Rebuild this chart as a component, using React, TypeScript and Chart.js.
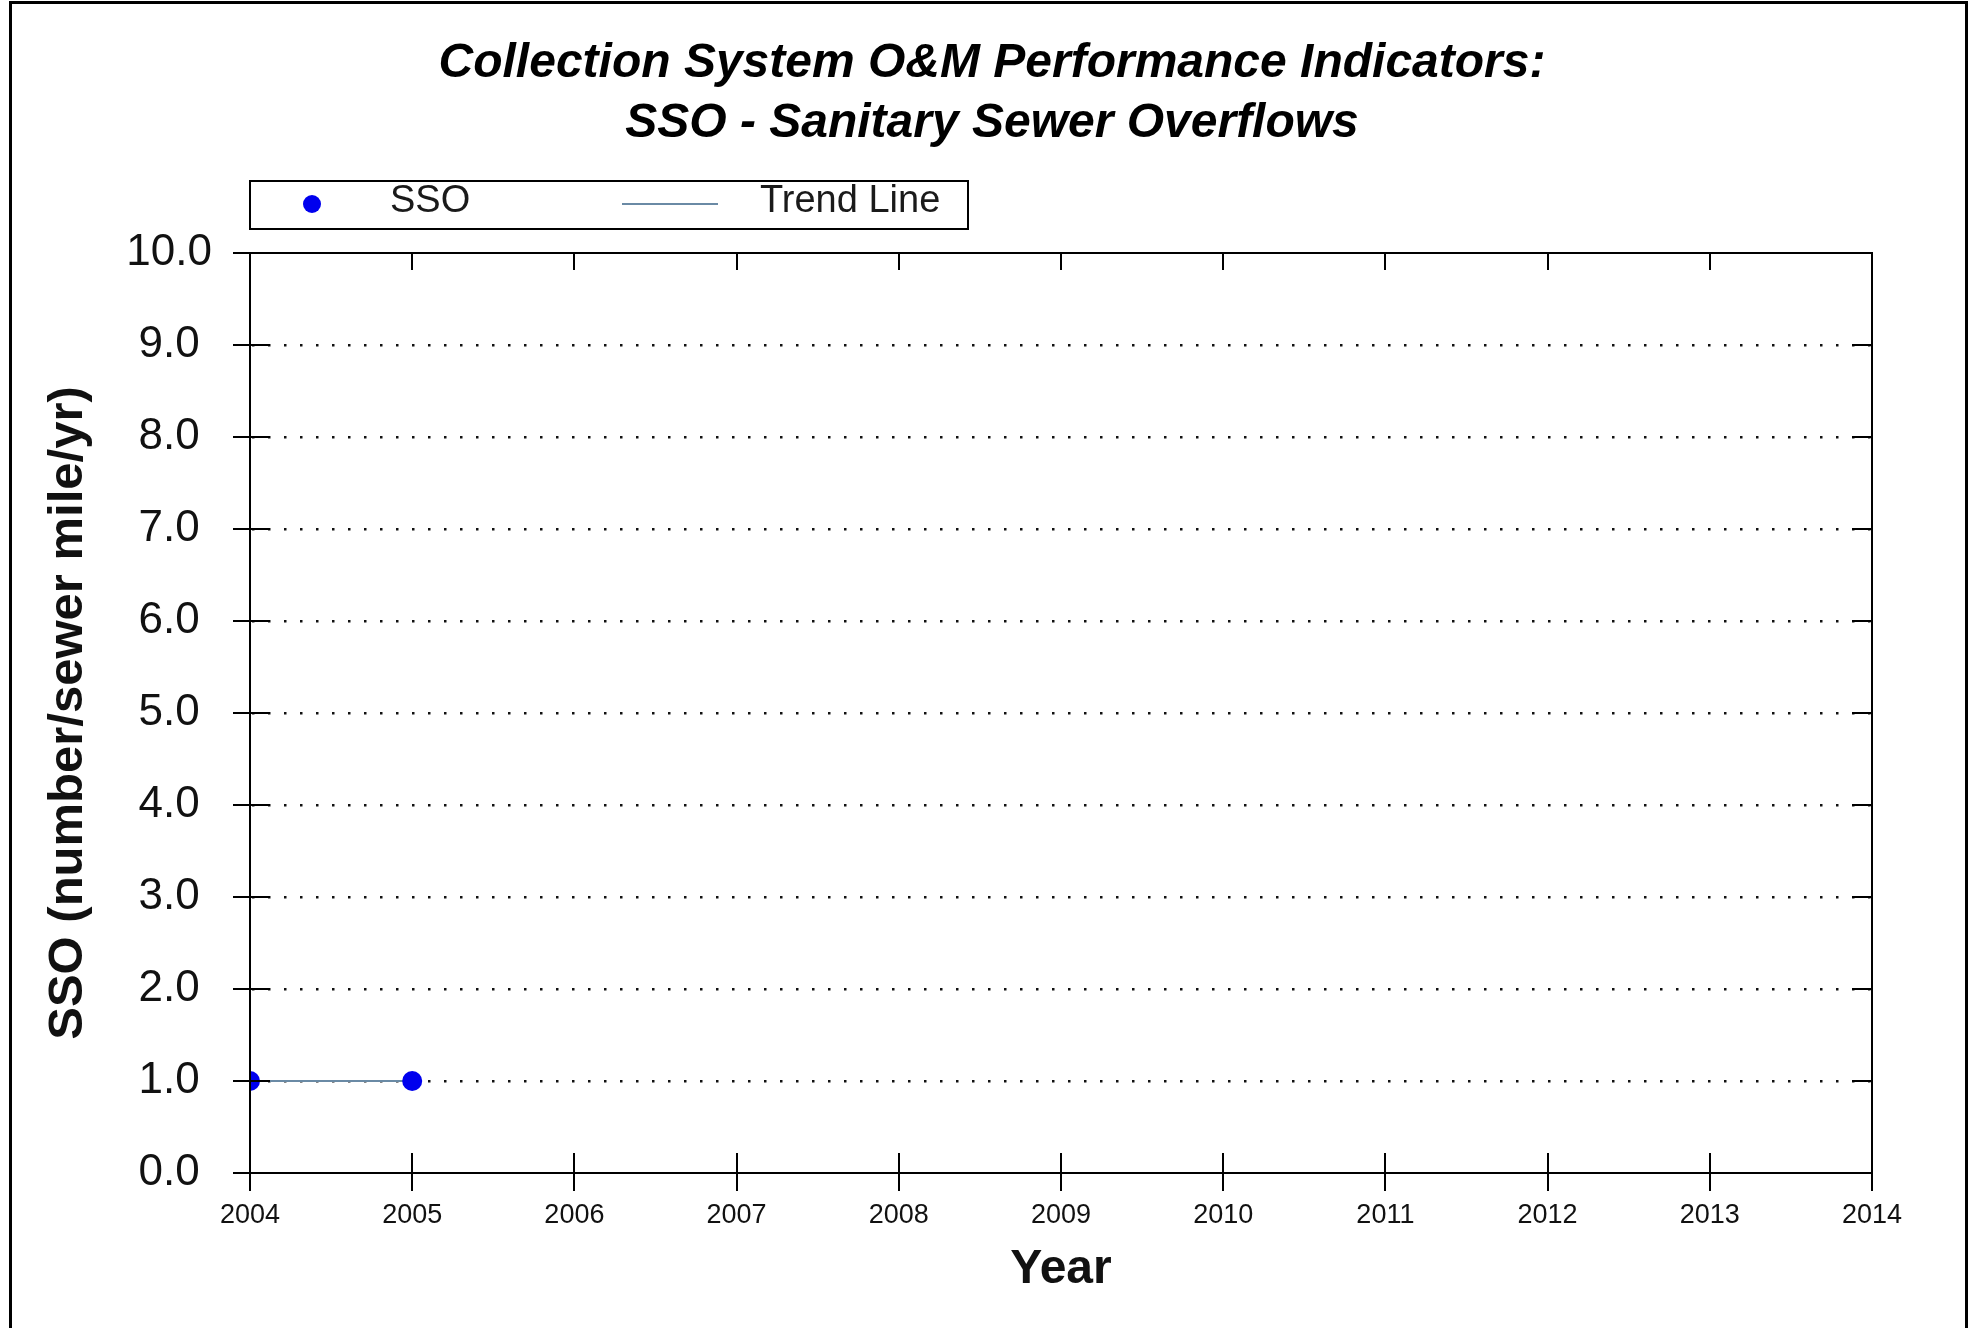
import React, { useEffect, useRef } from 'react';
import { Chart, registerables } from 'chart.js';

Chart.register(...registerables);

const titleLines = ['Collection System O&M Performance Indicators:', 'SSO - Sanitary Sewer Overflows'];
const xAxisTitle = 'Year';
const yAxisTitle = 'SSO (number/sewer mile/yr)';
const seriesLabels = ['SSO', 'Trend Line'];
const ssoYears = [2004, 2005];
const ssoValues = [1.0, 1.0];
const trendYears = [2004, 2005];
const trendValues = [1.0, 1.0];
const xRange = [2004, 2014];
const yRange = [0, 10];

const FONT = "'Liberation Sans', Arial, Helvetica, sans-serif";
const W = 1975;
const H = 1328;

const axesFramePlugin = {
  id: 'axesFrame',
  afterDatasetsDraw(chart: any) {
    const { ctx, chartArea: a, scales } = chart;
    const xs = scales.x;
    const ys = scales.y;
    ctx.save();
    ctx.strokeStyle = '#000';
    ctx.lineWidth = 2;
    ctx.strokeRect(a.left, a.top, a.right - a.left, a.bottom - a.top);
    ctx.beginPath();
    xs.ticks.forEach((t: any) => {
      const px = Math.round(xs.getPixelForValue(t.value));
      ctx.moveTo(px, a.bottom - 20);
      ctx.lineTo(px, a.bottom + 18);
      ctx.moveTo(px, a.top);
      ctx.lineTo(px, a.top + 17);
    });
    ys.ticks.forEach((t: any) => {
      const py = Math.round(ys.getPixelForValue(t.value));
      ctx.moveTo(a.left - 17, py);
      ctx.lineTo(a.left + 20, py);
      ctx.moveTo(a.right - 20, py);
      ctx.lineTo(a.right, py);
    });
    ctx.stroke();
    ctx.lineWidth = 3;
    ctx.strokeRect(10.5, 2.5, 1956, 1340);
    ctx.restore();
  },
};

const boxLegendPlugin = {
  id: 'boxLegend',
  afterDraw(chart: any) {
    const { ctx } = chart;
    const ds = chart.data.datasets;
    ctx.save();
    ctx.strokeStyle = '#000';
    ctx.lineWidth = 2;
    ctx.strokeRect(250, 181, 718, 48);
    ctx.fillStyle = ds[0].backgroundColor;
    ctx.beginPath();
    ctx.arc(312, 204, 9, 0, Math.PI * 2);
    ctx.fill();
    ctx.strokeStyle = ds[1].borderColor;
    ctx.lineWidth = 2;
    ctx.beginPath();
    ctx.moveTo(622, 204);
    ctx.lineTo(718, 204);
    ctx.stroke();
    ctx.fillStyle = '#1a1a1a';
    ctx.font = `38px ${FONT}`;
    ctx.textBaseline = 'middle';
    ctx.textAlign = 'left';
    ctx.fillText(ds[0].label, 390, 202);
    ctx.fillText(ds[1].label, 760, 202);
    ctx.restore();
  },
};

export default function App() {
  const ref = useRef<HTMLCanvasElement | null>(null);

  useEffect(() => {
    document.body.style.margin = '0';
    const canvas = ref.current;
    if (!canvas) return;
    const chart = new Chart(canvas, {
      type: 'scatter',
      data: {
        datasets: [
          {
            label: seriesLabels[0],
            data: ssoYears.map((x, i) => ({ x, y: ssoValues[i] })),
            showLine: false,
            pointRadius: 10,
            pointHoverRadius: 10,
            backgroundColor: '#0000ee',
            borderColor: '#0000ee',
            pointBorderWidth: 0,
            borderWidth: 0,
            clip: 0,
          } as any,
          {
            label: seriesLabels[1],
            data: trendYears.map((x, i) => ({ x, y: trendValues[i] })),
            showLine: true,
            pointRadius: 0,
            borderColor: '#6a8aa5',
            backgroundColor: '#6a8aa5',
            borderWidth: 2,
            clip: 0,
          } as any,
        ],
      },
      options: {
        responsive: false,
        animation: false,
        devicePixelRatio: 1,
        events: [],
        layout: { padding: { left: 9, right: 0, top: 0, bottom: 0 } },
        plugins: {
          legend: { display: false },
          tooltip: { enabled: false },
          title: {
            display: true,
            text: titleLines,
            color: '#000',
            align: 'center',
            font: { family: FONT, size: 48, weight: 'bold', style: 'italic', lineHeight: 1.25 },
            padding: { top: 33.5, bottom: 99.5 },
          },
        },
        scales: {
          x: {
            type: 'linear',
            position: 'bottom',
            min: xRange[0],
            max: xRange[1],
            grid: { display: false },
            border: { display: false },
            ticks: {
              stepSize: 1,
              autoSkip: false,
              maxRotation: 0,
              padding: 18,
              color: '#111',
              font: { family: FONT, size: 27 },
              callback: (v: any) => String(v),
            },
            title: {
              display: true,
              text: xAxisTitle,
              color: '#111',
              font: { family: FONT, size: 48, weight: 'bold' },
              padding: { top: 0, bottom: 29 },
            },
            afterFit: (s: any) => {
              s.height = 155;
            },
          },
          y: {
            type: 'linear',
            position: 'left',
            min: yRange[0],
            max: yRange[1],
            grid: {
              display: true,
              drawTicks: false,
              lineWidth: 2.5,
              color: (c: any) =>
                c.tick && (c.tick.value === yRange[0] || c.tick.value === yRange[1]) ? 'rgba(0,0,0,0)' : '#111',
            },
            border: { display: false, dash: [2.5, 13.5], dashOffset: -2 },
            ticks: {
              stepSize: 1,
              crossAlign: 'center',
              padding: 38,
              color: '#111',
              font: { family: FONT, size: 44 },
              callback: (v: any) => Number(v).toFixed(1),
            },
            title: {
              display: true,
              text: yAxisTitle,
              color: '#111',
              font: { family: FONT, size: 49, weight: 'bold' },
              padding: { top: 30, bottom: 0 },
            },
            afterFit: (s: any) => {
              s.width = 241;
            },
          },
          y2: {
            type: 'linear',
            position: 'right',
            display: true,
            min: yRange[0],
            max: yRange[1],
            grid: { display: false },
            border: { display: false },
            ticks: { display: false },
            afterFit: (s: any) => {
              s.width = 103;
            },
          },
        },
      } as any,
      plugins: [axesFramePlugin, boxLegendPlugin],
    });
    return () => chart.destroy();
  }, []);

  return (
    <div style={{ position: 'absolute', left: 0, top: 0, width: W, height: H, background: '#fff' }}>
      <canvas ref={ref} width={W} height={H} style={{ display: 'block', width: W, height: H }} />
    </div>
  );
}
